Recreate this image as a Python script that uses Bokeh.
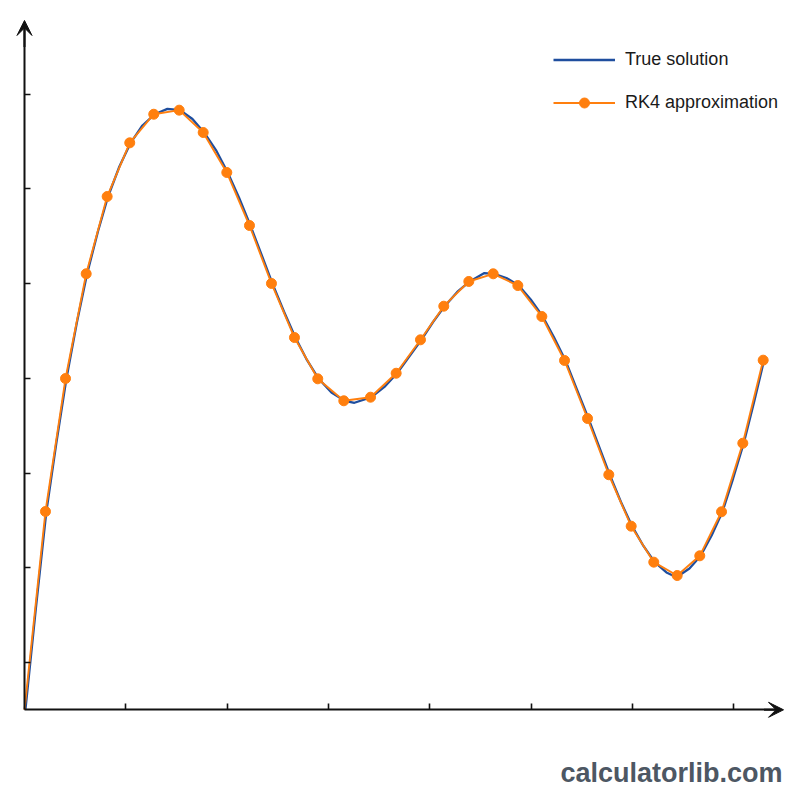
from bokeh.plotting import figure
from bokeh.models import (Range1d, LinearAxis, FixedTicker, CustomJSTickFormatter, Arrow,
                          VeeHead, Legend, LegendItem, Label, ColumnDataSource)
from bokeh.transform import dodge
from bokeh.embed import file_html
from bokeh.resources import INLINE

# ---- data ----
true_t = [0.000, 0.104, 0.207, 0.306, 0.405, 0.508, 0.609, 0.716, 0.816, 0.928,
          1.039, 1.155, 1.276, 1.402, 1.527, 1.649, 1.764, 1.881, 1.997, 2.108,
          2.221, 2.330, 2.438, 2.552, 2.665, 2.779, 2.895, 3.021, 3.152, 3.248,
          3.416, 3.544, 3.669, 3.789, 3.909, 4.024, 4.139, 4.263, 4.386, 4.531,
          4.627, 4.748, 4.870, 4.988, 5.107, 5.219, 5.331, 5.444, 5.558, 5.666,
          5.768, 5.879, 5.989, 6.101, 6.212, 6.328, 6.427, 6.555, 6.666, 6.774,
          6.881, 6.986, 7.091, 7.192, 7.292]
true_y = [0.000, 1.080, 2.094, 2.823, 3.498, 4.090, 4.604, 5.051, 5.420, 5.737,
          5.987, 6.170, 6.289, 6.346, 6.332, 6.239, 6.096, 5.911, 5.674, 5.410,
          5.114, 4.808, 4.502, 4.206, 3.931, 3.694, 3.495, 3.351, 3.263, 3.242,
          3.301, 3.409, 3.554, 3.731, 3.907, 4.095, 4.262, 4.412, 4.523, 4.612,
          4.604, 4.560, 4.480, 4.333, 4.153, 3.931, 3.689, 3.382, 3.076, 2.770,
          2.482, 2.194, 1.939, 1.730, 1.559, 1.450, 1.400, 1.492, 1.626, 1.841,
          2.091, 2.442, 2.815, 3.245, 3.692]

rk4_t = [0.000, 0.207, 0.405, 0.609, 0.816, 1.039, 1.276, 1.527, 1.764, 1.997,
         2.221, 2.438, 2.665, 2.895, 3.152, 3.416, 3.669, 3.909, 4.139, 4.386,
         4.627, 4.870, 5.107, 5.331, 5.558, 5.768, 5.989, 6.212, 6.443, 6.666,
         6.881, 7.091, 7.292]
rk4_y = [0.000, 2.094, 3.498, 4.604, 5.420, 5.987, 6.289, 6.332, 6.096, 5.674,
         5.114, 4.502, 3.931, 3.495, 3.263, 3.301, 3.554, 3.907, 4.262, 4.523,
         4.604, 4.480, 4.153, 3.689, 3.076, 2.482, 1.939, 1.559, 1.418, 1.626,
         2.091, 2.815, 3.692]

x_ticks = [1, 2, 3, 4, 5, 6, 7]
y_ticks = [0.5, 1.5, 2.5, 3.5, 4.5, 5.5, 6.5]

BLUE = "#1f4e9e"
ORANGE = "#ff7f0e"
AXIS = "#111111"

p = figure(width=800, height=800, output_backend="svg", toolbar_location=None,
           x_axis_type=None, y_axis_type=None, min_border=0,
           x_range=Range1d(-0.2369, 7.6604), y_range=Range1d(-0.9578, 7.4900))
p.outline_line_color = None
p.background_fill_color = "white"
p.border_fill_color = "white"

blank = CustomJSTickFormatter(code="return ''")

xaxis = LinearAxis(fixed_location=0, ticker=FixedTicker(ticks=x_ticks), formatter=blank,
                   major_tick_in=6, major_tick_out=0, minor_tick_in=0, minor_tick_out=0,
                   axis_line_width=2, axis_line_color=AXIS, major_tick_line_width=1.6,
                   major_tick_line_color=AXIS, bounds=(0, 7.45))
yaxis = LinearAxis(fixed_location=0, ticker=FixedTicker(ticks=y_ticks), formatter=blank,
                   major_tick_in=6, major_tick_out=0, minor_tick_in=0, minor_tick_out=0,
                   axis_line_width=2, axis_line_color=AXIS, major_tick_line_width=1.6,
                   major_tick_line_color=AXIS, bounds=(0, 7.2))
p.add_layout(xaxis, "below")
p.add_layout(yaxis, "left")

p.add_layout(Arrow(end=VeeHead(size=15, fill_color=AXIS, line_color=AXIS, line_width=1),
                   x_start=7.3, y_start=0, x_end=7.493, y_end=0,
                   line_width=2, line_color=AXIS))
p.add_layout(Arrow(end=VeeHead(size=15, fill_color=AXIS, line_color=AXIS, line_width=1),
                   x_start=0, y_start=7.0, x_end=0, y_end=7.279,
                   line_width=2, line_color=AXIS))

true_src = ColumnDataSource(dict(t=true_t, y=true_y))
rk_src = ColumnDataSource(dict(t=rk4_t, y=rk4_y))
mk_src = ColumnDataSource(dict(t=rk4_t[1:], y=rk4_y[1:]))

r_true = p.line(x=dodge("t", 0.009, range=p.x_range), y="y", source=true_src,
                line_color=BLUE, line_width=2.3)
r_rk_line = p.line(x="t", y="y", source=rk_src, line_color=ORANGE, line_width=1.9)
r_rk_pts = p.scatter(x="t", y="y", source=mk_src, size=10, marker="circle",
                     fill_color=ORANGE, line_color=ORANGE)

legend = Legend(items=[LegendItem(label="True solution", renderers=[r_true]),
                       LegendItem(label="RK4 approximation", renderers=[r_rk_line, r_rk_pts])],
                location=(553, 685), padding=0, margin=0, glyph_width=62, glyph_height=25,
                label_standoff=10, spacing=18, label_text_font="Liberation Sans",
                label_text_font_size="18px", label_text_color="#1a1a1a",
                border_line_color=None, background_fill_alpha=0)
p.add_layout(legend)

p.add_layout(Label(x=782, y=28, x_units="screen", y_units="screen", text="calculatorlib.com",
                   text_align="right", text_baseline="middle", text_font="Liberation Sans",
                   text_font_style="bold", text_font_size="27px", text_color="#4d5763"))

open("out.html", "w").write(file_html(p, INLINE))
